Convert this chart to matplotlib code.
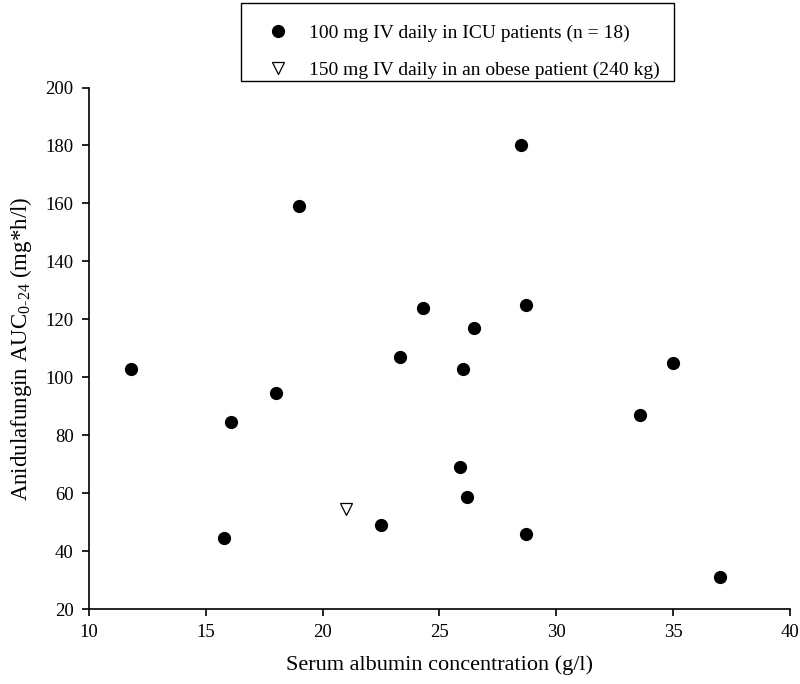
import matplotlib
matplotlib.use('Agg')
import matplotlib.pyplot as plt

# ICU patients, 100 mg IV daily
albumin_icu = [11.8, 15.8, 16.1, 18.0, 19.0, 22.5, 23.3, 24.3, 25.9, 26.0,
               26.2, 26.5, 28.5, 28.7, 28.7, 33.6, 35.0, 37.0]
auc_icu = [103, 44.5, 84.5, 94.5, 159, 49, 107, 124, 69, 103,
           58.5, 117, 180, 125, 46, 87, 105, 31]

# obese patient, 150 mg IV daily
albumin_obese = [21.0]
auc_obese = [54.5]

xticks = [10, 15, 20, 25, 30, 35, 40]
yticks = [20, 40, 60, 80, 100, 120, 140, 160, 180, 200]

plt.rcParams['font.family'] = ['Liberation Serif', 'DejaVu Serif']
plt.rcParams['mathtext.fontset'] = 'custom'
plt.rcParams['mathtext.rm'] = 'Liberation Serif'

fig = plt.figure(figsize=(8, 6.84), dpi=100)
ax = fig.add_axes([0.111, 0.1096, 0.8765, 0.7624])

p1, = ax.plot(albumin_icu, auc_icu, linestyle='none', marker='o',
              markersize=8.5, color='black')
p2, = ax.plot(albumin_obese, auc_obese, linestyle='none', marker='v',
              markersize=8, markerfacecolor='white', markeredgecolor='black',
              markeredgewidth=0.9)

ax.set_xlim(10, 40)
ax.set_ylim(20, 200)
ax.set_xticks(xticks)
ax.set_yticks(yticks)
ax.spines['top'].set_visible(False)
ax.spines['right'].set_visible(False)
ax.tick_params(direction='out', length=5, width=1.2, labelsize=13.5, pad=6)
for s in ['left', 'bottom']:
    ax.spines[s].set_linewidth(1.2)

ax.set_xlabel('Serum albumin concentration (g/l)', fontsize=16, labelpad=10)
ax.set_ylabel(r'Anidulafungin AUC$_{\mathregular{0\text{-}24}}$ (mg*h/l)', fontsize=16.5, labelpad=8)

# legend box sits at the top of the figure, text lower inside it
fig.add_artist(plt.Rectangle((0.30125, 0.8816), 0.541, 0.114,
                             transform=fig.transFigure, fill=False,
                             edgecolor='black', linewidth=1.0))
fig.legend([p1, p2],
           ['100 mg IV daily in ICU patients (n = 18)',
            '150 mg IV daily in an obese patient (240 kg)'],
           loc='upper left', bbox_to_anchor=(0.315, 0.965),
           frameon=False, fontsize=14, borderpad=0,
           labelspacing=1.0, handlelength=2.7,
           handletextpad=0.25, borderaxespad=0)

fig.savefig('out.png', dpi=100)
